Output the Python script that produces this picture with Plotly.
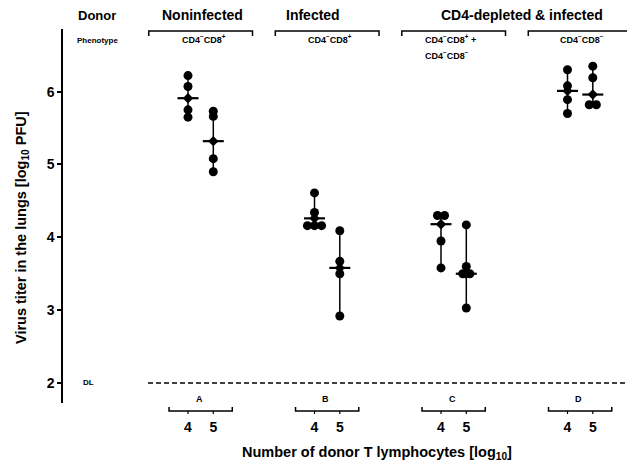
import plotly.graph_objects as go

# ---------------- data ----------------
groups = ["A", "B", "C", "D"]
doses = [4, 5]
donor_names = ["Noninfected", "Infected", "CD4-depleted & infected"]
phenotypes = ["CD4<sup>−</sup>CD8<sup>+</sup>", "CD4<sup>−</sup>CD8<sup>+</sup>",
              "CD4<sup>−</sup>CD8<sup>+</sup> +", "CD4<sup>−</sup>CD8<sup>−</sup>"]
phenotype_c2 = "CD4<sup>−</sup>CD8<sup>−</sup>"

A4 = [6.22, 6.07, 5.75, 5.65]
A5 = [5.73, 5.66, 5.08, 4.90]
B4 = [4.61, 4.34, 4.16, 4.16, 4.16]
B5 = [4.09, 3.67, 3.50, 2.92]
C4 = [4.30, 4.30, 3.95, 3.58]
C5 = [4.17, 3.60, 3.50, 3.50, 3.03]
D4 = [6.30, 6.08, 5.89, 5.70]
D5 = [6.35, 6.19, 5.82, 5.82]
medians = {"A4": 5.91, "A5": 5.32, "B4": 4.26, "B5": 3.58,
           "C4": 4.18, "C5": 3.50, "D4": 6.01, "D5": 5.96}
series = {"A4": A4, "A5": A5, "B4": B4, "B5": B5,
          "C4": C4, "C5": C5, "D4": D4, "D5": D5}
detection_limit = 2
y_ticks = [2, 3, 4, 5, 6]

# ---------------- geometry helpers ----------------
W, H = 627, 468
ML, MR, MT, MB = 63, 0, 29, 65
PW, PH = W - ML - MR, H - MT - MB
X0_PX, UNIT_PX = 188.0, 25.3          # pixel of first position, pixels per unit
XR = [(ML - X0_PX) / UNIT_PX, (W - MR - X0_PX) / UNIT_PX]
YR = [1.725, 6.86]

def pxx(px):
    return (px - ML) / PW

def pxy(py):
    return (H - MB - py) / PH

def pos(g, d):
    return g * 5 + (d - 4)

FONT = "Liberation Sans, Arial, sans-serif"
fig = go.Figure()

# ---------------- points ----------------
SPREAD = 0.28
for gi, g in enumerate(groups):
    for d in doses:
        key = f"{g}{d}"
        vals = series[key]
        xc = pos(gi, d)
        fig.add_trace(go.Scatter(x=[xc, xc], y=[min(vals), max(vals)], mode="lines",
                                 line=dict(color="black", width=1.5), hoverinfo="skip"))
        xs, ys = [], []
        counts = {}
        for v in vals:
            counts[v] = counts.get(v, 0) + 1
        for v, n in counts.items():
            for k in range(n):
                xs.append(xc + (k - (n - 1) / 2) * SPREAD)
                ys.append(v)
        fig.add_trace(go.Scatter(x=xs, y=ys, mode="markers",
                                 marker=dict(color="black", size=9, line=dict(width=0))))
        m = medians[key]
        fig.add_trace(go.Scatter(x=[xc], y=[m], mode="markers",
                                 marker=dict(symbol="line-ew", size=15, color="black",
                                             line=dict(color="black", width=2.2))))
        fig.add_trace(go.Scatter(x=[xc], y=[m], mode="markers",
                                 marker=dict(symbol="diamond", size=8, color="black")))

# ---------------- shapes ----------------
shapes = []
shapes.append(dict(type="line", xref="x", yref="y", x0=(148 - X0_PX) / UNIT_PX, x1=XR[1],
                   y0=detection_limit, y1=detection_limit,
                   line=dict(color="black", width=1.5, dash="5px,3px")))
yt, yt2 = pxy(31), pxy(36)
for gi in range(4):
    c = pos(gi, 4) + 0.5
    a, b = c - 2.05, c + 2.05
    shapes.append(dict(type="path", xref="x", yref="paper",
                       path=f"M {a},{yt2} L {a},{yt} L {b},{yt} L {b},{yt2}",
                       line=dict(color="black", width=1.5)))
yb, yb_up, yb_dn = pxy(411), pxy(407), pxy(414)
for gi in range(4):
    a, b = pos(gi, 4) - 0.75, pos(gi, 5) + 0.75
    shapes.append(dict(type="path", xref="x", yref="paper",
                       path=f"M {a},{yb_up} L {a},{yb} L {b},{yb} L {b},{yb_up}",
                       line=dict(color="black", width=1.5)))
    for d in doses:
        shapes.append(dict(type="line", xref="x", yref="paper", x0=pos(gi, d), x1=pos(gi, d),
                           y0=yb, y1=yb_dn, line=dict(color="black", width=1.2)))

# ---------------- annotations ----------------
ann = []
def t(text, x, y, size, xref="paper", yref="paper", xanchor="center", angle=0):
    ann.append(dict(text=text, x=x, y=y, xref=xref, yref=yref, xanchor=xanchor,
                    yanchor="middle", showarrow=False, textangle=angle,
                    font=dict(family=FONT, size=size, color="black")))

t("<b>Donor</b>", pxx(76), pxy(15), 13, xanchor="left")
t("<b>Phenotype</b>", pxx(75), pxy(40), 8, xanchor="left")
name_x = [0.59, 4.94, 13.2]
for nm, xv in zip(donor_names, name_x):
    t(f"<b>{nm}</b>", xv, pxy(15), 14, xref="x")
t(f"<b>{phenotypes[0]}</b>", 0.63, pxy(39), 9, xref="x")
t(f"<b>{phenotypes[1]}</b>", 5.61, pxy(39), 9, xref="x")
t(f"<b>{phenotypes[2]}</b>", 9.3, pxy(39), 9, xref="x", xanchor="left")
t(f"<b>{phenotype_c2}</b>", 9.3, pxy(55), 9, xref="x", xanchor="left")
t(f"<b>{phenotypes[3]}</b>", 15.57, pxy(39), 9, xref="x")
for gi, g in enumerate(groups):
    t(f"<b>{g}</b>", pos(gi, 4) + 0.45, pxy(399), 9, xref="x")
t("<b>DL</b>", pxx(88), detection_limit, 8, yref="y")
t("<b>Virus titer in the lungs [log<sub>10</sub> PFU]</b>", pxx(22), pxy(228), 14.5, angle=-90)
t("<b>Number of donor T lymphocytes [log<sub>10</sub>]</b>", pxx(377), pxy(453), 14.5)

tickpos, ticktxt = [], []
for gi in range(4):
    for d in doses:
        tickpos.append(pos(gi, d))
        ticktxt.append(f"<b>{d}</b>")

fig.update_layout(
    width=W, height=H, margin=dict(l=ML, r=MR, t=MT, b=MB),
    paper_bgcolor="white", plot_bgcolor="white", showlegend=False,
    shapes=shapes, annotations=ann,
    font=dict(family=FONT, color="black"),
    xaxis=dict(range=XR, tickvals=tickpos, ticktext=ticktxt, ticks="", showline=False,
               showgrid=False, zeroline=False, ticklabelstandoff=14,
               tickfont=dict(family=FONT, size=14, color="black")),
    yaxis=dict(range=YR, tickvals=y_ticks, ticktext=[f"<b>{v}</b>" for v in y_ticks],
               ticks="outside", ticklen=4, tickwidth=1.5, tickcolor="black",
               showline=True, linewidth=1.5, linecolor="black", showgrid=False,
               zeroline=False, tickfont=dict(family=FONT, size=14, color="black")),
)

fig.write_html("out.html", config={"displayModeBar": False},
               post_script="document.body.style.margin='0';")
